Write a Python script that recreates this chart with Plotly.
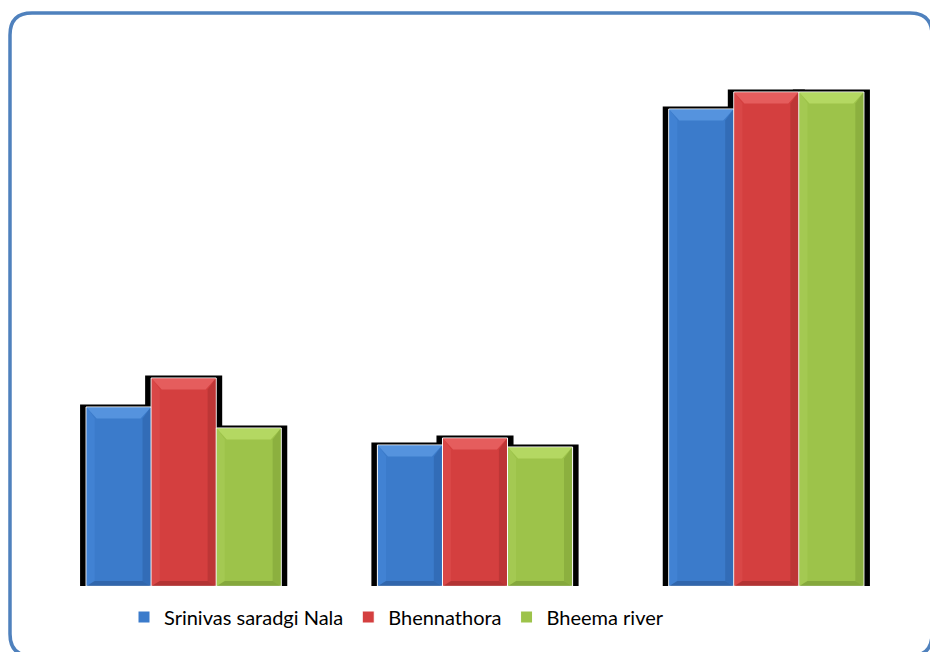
import plotly.graph_objects as go

# ---- data ----
categories = ["Group 1", "Group 2", "Group 3"]
series_names = ["Srinivas saradgi Nala", "Bhennathora", "Bheema river"]
srinivas = [179, 141, 477]
bhennathora = [208, 148, 494]
bheema = [158, 139, 494]
series_values = [srinivas, bhennathora, bheema]

# ---- style ----
W, H = 930, 652
ML, MR, MT, MB = 38, 18, 40, 66
PW, PH = W - ML - MR, H - MT - MB
YMAX = 546
BARGAP = 0.33
base_colors = ["#3B7BCB", "#D43F3F", "#9DC34A"]
top_colors = ["#5B98E2", "#E86363", "#B9DC66"]
left_colors = ["#4586D6", "#DC4B4B", "#A7CC55"]
right_colors = ["#2F66AE", "#B43333", "#84A83A"]
bottom_colors = ["#2D5E9E", "#A52F2F", "#7A9C36"]

xpx = PW / 3.0          # px per category unit
ypx = PH / YMAX          # px per value unit

fig = go.Figure()
for name, vals, col in zip(series_names, series_values, base_colors):
    fig.add_trace(go.Bar(
        x=list(range(len(categories))), y=vals, name=name,
        marker=dict(color=col, line=dict(color="white", width=1)),
        hoverinfo="skip"))

shapes = []
nser = len(series_values)
bw = (1 - BARGAP) / nser


def path(pts):
    return "M " + " L ".join(f"{a},{b}" for a, b in pts) + " Z"


for s, vals in enumerate(series_values):
    for i, v in enumerate(vals):
        x0 = i - (1 - BARGAP) / 2 + s * bw
        x1 = x0 + bw
        # shadow
        sx, sy = 6 / xpx, 2.5 / ypx
        shapes.append(dict(type="rect", xref="x", yref="y", layer="below",
                           x0=x0 - sx, x1=x1 + sx, y0=-sy, y1=v + sy,
                           fillcolor="black", line=dict(width=0)))
        # bevel
        d = 10 / xpx
        h = 11 / ypx
        hb = 5 / ypx
        dl = 8 / xpx
        xi0, xi1 = x0 + 0.6 / xpx, x1 - 0.6 / xpx
        yt = v - 0.6 / ypx
        shapes.append(dict(type="path", xref="x", yref="y", layer="above",
                           path=path([(xi0, yt), (xi1, yt), (xi1 - d, yt - h), (xi0 + d, yt - h)]),
                           fillcolor=top_colors[s], line=dict(width=0), opacity=0.85))
        shapes.append(dict(type="path", xref="x", yref="y", layer="above",
                           path=path([(xi0, yt), (xi0 + dl, yt - h), (xi0 + dl, hb), (xi0, 0)]),
                           fillcolor=left_colors[s], line=dict(width=0), opacity=0.7))
        shapes.append(dict(type="path", xref="x", yref="y", layer="above",
                           path=path([(xi1, yt), (xi1 - dl, yt - h), (xi1 - dl, hb), (xi1, 0)]),
                           fillcolor=right_colors[s], line=dict(width=0), opacity=0.7))
        shapes.append(dict(type="path", xref="x", yref="y", layer="above",
                           path=path([(xi0, 0), (xi1, 0), (xi1 - dl, hb), (xi0 + dl, hb)]),
                           fillcolor=bottom_colors[s], line=dict(width=0), opacity=0.7))


# rounded border in paper coordinates
def px2paper(px, py):
    return (px - ML) / PW, (H - MB - py) / PH


def P(px, py):
    a, b = px2paper(px, py)
    return f"{a:.5f},{b:.5f}"


bx0, by0, bx1, by1, r = 10, 13, 932, 656, 22
border = (f"M {P(bx0 + r, by0)} L {P(bx1 - r, by0)} Q {P(bx1, by0)} {P(bx1, by0 + r)} "
          f"L {P(bx1, by1 - r)} Q {P(bx1, by1)} {P(bx1 - r, by1)} "
          f"L {P(bx0 + r, by1)} Q {P(bx0, by1)} {P(bx0, by1 - r)} "
          f"L {P(bx0, by0 + r)} Q {P(bx0, by0)} {P(bx0 + r, by0)} Z")
shapes.append(dict(type="path", xref="paper", yref="paper", path=border,
                   line=dict(color="#4F81BD", width=3.5), fillcolor="rgba(0,0,0,0)"))

lx, ly = px2paper(124, 617)
fig.update_layout(
    width=W, height=H,
    margin=dict(l=ML, r=MR, t=MT, b=MB),
    paper_bgcolor="white", plot_bgcolor="white",
    barmode="group", bargap=BARGAP, bargroupgap=0,
    xaxis=dict(range=[-0.5, 2.5], showticklabels=False, showgrid=False,
               zeroline=False, showline=False, ticks=""),
    yaxis=dict(range=[0, YMAX], showticklabels=False, showgrid=False,
               zeroline=False, showline=False, ticks=""),
    legend=dict(orientation="h", x=lx, y=ly, xanchor="left", yanchor="middle",
                font=dict(family="Lato, Liberation Sans", size=20, color="black"),
                bgcolor="rgba(0,0,0,0)"),
    shapes=shapes,
)
fig.write_html("out.html", config={"displayModeBar": False},
               post_script="document.body.style.margin='0px';")
